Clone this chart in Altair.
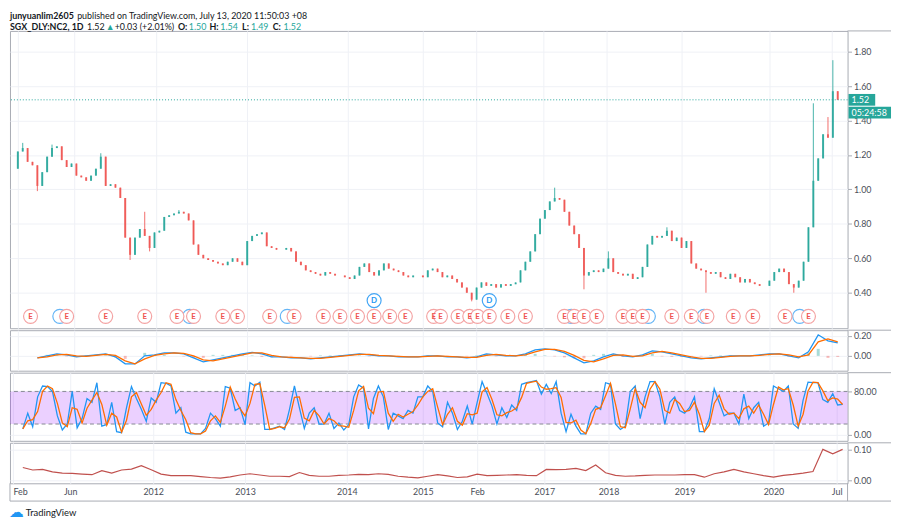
import altair as alt
import pandas as pd

# ---------------- data ----------------
# closes sampled evenly along the bar-index axis
closes = [
    1.22, 1.24, 1.16, 1.14, 1.02, 1.10, 1.19, 1.24, 1.25, 1.17,
    1.13, 1.15, 1.08, 1.07, 1.05, 1.08, 1.12, 1.19, 1.02, 1.03,
    1.01, 0.95, 0.72, 0.62, 0.72, 0.77, 0.73, 0.66, 0.75, 0.76,
    0.84, 0.85, 0.86, 0.87, 0.86, 0.82, 0.68, 0.62, 0.60, 0.59,
    0.58, 0.57, 0.56, 0.58, 0.60, 0.58, 0.56, 0.70, 0.73, 0.74,
    0.75, 0.67, 0.66, 0.65, 0.65, 0.66, 0.64, 0.58, 0.56, 0.53,
    0.52, 0.51, 0.50, 0.52, 0.51, 0.50, 0.50, 0.49, 0.48, 0.50,
    0.55, 0.57, 0.52, 0.50, 0.53, 0.57, 0.54, 0.53, 0.52, 0.50,
    0.49, 0.50, 0.50, 0.49, 0.53, 0.54, 0.52, 0.49, 0.50, 0.48,
    0.46, 0.43, 0.40, 0.36, 0.43, 0.46, 0.44, 0.45, 0.43, 0.45,
    0.44, 0.45, 0.46, 0.53, 0.58, 0.64, 0.74, 0.83, 0.88, 0.93,
    0.95, 0.94, 0.87, 0.79, 0.74, 0.66, 0.50, 0.52, 0.53, 0.52,
    0.54, 0.60, 0.52, 0.51, 0.50, 0.51, 0.48, 0.49, 0.55, 0.68,
    0.73, 0.72, 0.73, 0.76, 0.70, 0.72, 0.66, 0.70, 0.57, 0.54,
    0.53, 0.52, 0.51, 0.52, 0.49, 0.48, 0.51, 0.49, 0.46, 0.48,
    0.46, 0.45, 0.44, 0.44, 0.47, 0.52, 0.54, 0.52, 0.45, 0.43,
    0.47, 0.58, 0.78, 1.05, 1.18, 1.32, 1.30, 1.57, 1.52,
]
first_open = 1.12
wick_hi_idx = [1, 7, 17, 26, 33, 110, 121, 133, 163, 166, 167]
wick_hi_val = [1.27, 1.26, 1.21, 0.87, 0.88, 1.01, 0.64, 0.78, 1.50, 1.42, 1.75]
wick_lo_idx = [4, 23, 27, 93, 116, 141, 159, 164]
wick_lo_val = [0.99, 0.59, 0.64, 0.35, 0.42, 0.40, 0.40, 1.11]

earn_idx = [2.6, 10, 18, 26, 32.6, 36, 42, 45, 51.6, 56.6, 62.6, 66, 69.6, 73,
            76.2, 79.4, 85.2, 86.6, 90.2, 92.6, 94.2, 96.6, 100.4, 104, 112,
            114, 116, 118.6, 124, 126, 128, 134, 138, 141.2, 146.6, 150.6,
            157.2, 162]
blue_idx = [8.6, 35.2, 55.2, 113.4, 129.2, 140.6, 160.2]
div_idx = [73, 96.6]

# MACD every second bar, starting at bar 4
macd_vals = [
    -0.02, 0.00, 0.02, 0.01, -0.01, 0.00, 0.01, 0.02, -0.01, -0.08,
    -0.08, 0.00, 0.01, 0.03, 0.03, 0.02, -0.02, -0.06, -0.04, -0.02,
    0.00, 0.02, 0.035, 0.02, -0.01, -0.01, -0.02, -0.02, -0.03, -0.02,
    -0.01, 0.00, 0.01, 0.02, 0.01, 0.00, 0.00, -0.01, -0.01, -0.01,
    0.00, 0.00, -0.01, -0.01, -0.02, -0.01, 0.02, 0.01, 0.00, 0.00,
    0.02, 0.06, 0.07, 0.06, 0.03, -0.02, -0.07, -0.05, -0.01, 0.02,
    0.00, -0.01, 0.01, 0.05, 0.04, 0.02, 0.00, -0.02, -0.03, -0.02,
    -0.01, 0.00, 0.00, 0.00, 0.01, 0.02, 0.02, 0.00, -0.02, 0.04,
    0.21, 0.15, 0.13,
]
signal_vals = [
    -0.02, -0.01, 0.01, 0.015, 0.00, -0.005, 0.005, 0.015, 0.005, -0.05,
    -0.08, -0.03, 0.005, 0.02, 0.03, 0.025, 0.00, -0.04, -0.05, -0.03,
    -0.01, 0.01, 0.03, 0.03, 0.005, -0.01, -0.015, -0.02, -0.025, -0.025,
    -0.015, -0.005, 0.005, 0.015, 0.015, 0.005, 0.00, -0.005, -0.01, -0.01,
    -0.005, 0.00, -0.005, -0.01, -0.015, -0.015, 0.005, 0.015, 0.005, 0.00,
    0.01, 0.04, 0.065, 0.065, 0.045, 0.005, -0.045, -0.06, -0.03, 0.005,
    0.01, -0.005, 0.00, 0.03, 0.045, 0.03, 0.01, -0.01, -0.025, -0.025,
    -0.015, -0.005, 0.00, 0.00, 0.005, 0.015, 0.02, 0.01, -0.01, 0.01,
    0.14, 0.17, 0.14,
]

# Stochastic %K / %D, every bar starting at bar 2
stoch_k = [
    11, 40, 15, 70, 90, 89, 80, 35, 9, 20, 80, 13, 30, 67, 60, 96, 16, 19,
    60, 6, 4, 50, 89, 67, 47, 25, 68, 60, 96, 95, 90, 40, 50, 5, 2, 2, 2,
    12, 40, 30, 16, 89, 86, 45, 50, 19, 96, 90, 97, 10, 10, 13, 16, 10, 47,
    90, 50, 12, 40, 50, 20, 20, 40, 12, 22, 9, 19, 70, 92, 86, 11, 67, 90,
    70, 10, 40, 35, 30, 45, 40, 70, 70, 90, 80, 22, 15, 60, 40, 10, 25, 53,
    20, 60, 98, 76, 53, 20, 50, 32, 55, 45, 93, 96, 98, 100, 75, 93, 76, 98,
    40, 6, 38, 16, 2, 2, 40, 53, 47, 96, 93, 20, 10, 16, 80, 90, 30, 70, 98,
    98, 70, 20, 60, 70, 45, 40, 50, 70, 6, 6, 30, 85, 60, 35, 40, 40, 20,
    75, 30, 50, 60, 16, 22, 90, 85, 80, 90, 20, 12, 64, 97, 96, 96, 65, 60,
    76, 55, 56,
]
stoch_d = [
    11, 26, 28, 43, 80, 90, 85, 58, 22, 15, 50, 47, 22, 49, 64, 78, 56, 18,
    40, 33, 5, 27, 70, 78, 57, 36, 47, 64, 78, 96, 93, 65, 45, 28, 4, 2, 2,
    7, 26, 35, 23, 53, 88, 66, 48, 35, 58, 93, 94, 54, 10, 12, 15, 13, 29,
    69, 70, 31, 26, 45, 35, 20, 30, 26, 17, 16, 14, 45, 81, 89, 49, 39, 79,
    80, 40, 25, 38, 33, 38, 43, 55, 70, 80, 85, 51, 19, 38, 50, 25, 18, 39,
    37, 40, 79, 87, 65, 37, 35, 41, 44, 50, 69, 95, 97, 99, 88, 84, 85, 87,
    69, 23, 22, 27, 9, 2, 21, 47, 50, 72, 95, 57, 15, 13, 48, 85, 60, 50, 84,
    98, 84, 45, 40, 65, 58, 43, 45, 60, 38, 6, 18, 58, 73, 48, 38, 40, 30,
    48, 53, 40, 55, 38, 19, 56, 88, 83, 85, 55, 16, 38, 81, 97, 96, 81, 63,
    68, 66, 56,
]

# lower indicator, every second bar starting at bar 2
lower_vals = [
    0.042, 0.034, 0.036, 0.028, 0.024, 0.023, 0.021, 0.019, 0.032, 0.024,
    0.034, 0.037, 0.048, 0.035, 0.021, 0.016, 0.016, 0.016, 0.013, 0.010,
    0.008, 0.012, 0.018, 0.022, 0.018, 0.014, 0.014, 0.013, 0.026, 0.017,
    0.014, 0.014, 0.017, 0.018, 0.020, 0.019, 0.022, 0.020, 0.014, 0.011,
    0.009, 0.014, 0.019, 0.015, 0.010, 0.012, 0.021, 0.016, 0.017, 0.018,
    0.019, 0.017, 0.016, 0.036, 0.035, 0.036, 0.039, 0.032, 0.050, 0.025,
    0.017, 0.014, 0.015, 0.017, 0.018, 0.018, 0.018, 0.019, 0.019, 0.011,
    0.022, 0.028, 0.036, 0.028, 0.022, 0.016, 0.011, 0.017, 0.020, 0.024,
    0.029, 0.100, 0.086, 0.100,
]

tick_idx = [0, 11.6, 28.4, 47, 67.6, 83, 94, 107.6, 120.6, 136, 154, 166.8]
tick_lab = ["Feb", "Jun", "2012", "2013", "2014", "2015", "Feb", "2017",
            "2018", "2019", "2020", "Jul"]
price_ticks = [0.4, 0.6, 0.8, 1.0, 1.2, 1.4, 1.6, 1.8]

# ---------------- tables ----------------
n = len(closes)
opens = [first_open] + closes[:-1]
highs = [max(o, c) for o, c in zip(opens, closes)]
lows = [min(o, c) for o, c in zip(opens, closes)]
for i, v in zip(wick_hi_idx, wick_hi_val):
    highs[i] = max(highs[i], v)
for i, v in zip(wick_lo_idx, wick_lo_val):
    lows[i] = min(lows[i], v)
cdf = pd.DataFrame({"i": list(range(n)), "o": opens, "c": closes, "h": highs, "l": lows})
cdf["up"] = cdf["c"] >= cdf["o"]

mlen = min(len(macd_vals), len(signal_vals))
mdf = pd.DataFrame({"i": [4 + 2 * k for k in range(mlen)],
                    "m": macd_vals[:mlen], "s": signal_vals[:mlen]})
mdf["hist"] = mdf["m"] - mdf["s"]

klen = min(len(stoch_k), len(stoch_d))
sdf = pd.DataFrame({"i": [2 + k for k in range(klen)], "k": stoch_k[:klen], "d": stoch_d[:klen]})
ldf = pd.DataFrame({"i": [2 + 2 * k for k in range(len(lower_vals))], "v": lower_vals})

# ---------------- styling ----------------
W = 848
H1, H2, H3, H4 = 301, 41, 69, 41
UP, DN = "#26a69a", "#ef5350"
FONT = "Lato"
FRAME = "#a8abb3"
GRID = "#eff1f6"

xs = alt.Scale(domain=[-0.6, 169.0], nice=False, zero=False)
grid_axis = alt.Axis(values=tick_idx, labels=False, ticks=False, domain=False,
                     grid=True, title=None, gridColor=GRID)


def X(axis=grid_axis):
    return alt.X("i:Q", scale=xs, axis=axis)


def yaxis(values):
    return alt.Axis(orient="right", values=values, format=".2f", title=None,
                    grid=True, gridColor=GRID)


def one():
    return alt.Chart(pd.DataFrame({"a": [0]}))


def ext_rule(y):
    # frame line continuing across the price-scale column
    return one().mark_rule(color=FRAME, strokeWidth=1).encode(
        x=alt.value(W), x2=alt.value(W + 44), y=alt.value(y))


# ---------------- price panel ----------------
ys1 = alt.Scale(domain=[0.194, 1.92], nice=False, zero=False)
ccol = alt.condition("datum.up", alt.value(UP), alt.value(DN))
cbase = alt.Chart(cdf)
wicks = cbase.mark_rule(strokeWidth=1, opacity=0.85).encode(
    x=X(), y=alt.Y("l:Q", scale=ys1, axis=yaxis(price_ticks)), y2="h:Q", color=ccol)
bodies = cbase.mark_bar(size=2, opacity=0.85).encode(
    x=X(), y=alt.Y("o:Q", scale=ys1), y2="c:Q", color=ccol)

last = closes[-1]
ldf1 = pd.DataFrame({"p": [last]})
last_line = alt.Chart(ldf1).mark_rule(color=UP, strokeDash=[1, 2], strokeWidth=1).encode(
    y=alt.Y("p:Q", scale=ys1))
boxes = pd.DataFrame({
    "p": [last, last - 0.074],
    "lo": [last - 0.034, last - 0.074 - 0.034],
    "hi": [last + 0.034, last - 0.074 + 0.034],
    "lab": [f"{last:.2f}", "05:24:58"],
})
box_rect1 = alt.Chart(boxes.iloc[:1]).mark_rect(color=UP).encode(
    x=alt.value(W + 1), x2=alt.value(W + 28), y=alt.Y("lo:Q", scale=ys1), y2="hi:Q")
box_rect2 = alt.Chart(boxes.iloc[1:]).mark_rect(color=UP).encode(
    x=alt.value(W + 1), x2=alt.value(W + 44), y=alt.Y("lo:Q", scale=ys1), y2="hi:Q")
box_text = alt.Chart(boxes).mark_text(color="white", align="left", baseline="middle",
                                      font=FONT, fontSize=9).encode(
    x=alt.value(W + 4), y=alt.Y("p:Q", scale=ys1), text="lab:N")

edf = pd.DataFrame({"i": earn_idx})
bdf = pd.DataFrame({"i": blue_idx})
ddf = pd.DataFrame({"i": div_idx})
EY, DY = 289, 273
CS = 200
blue_c = alt.Chart(bdf).mark_point(shape="circle", size=CS, fill="white", fillOpacity=1,
                                   stroke="#64b5f6", strokeWidth=1.2, opacity=1).encode(
    x=X(), y=alt.value(EY))
earn_c = alt.Chart(edf).mark_point(shape="circle", size=CS, fill="white", fillOpacity=1,
                                   stroke="#f4a3a3", strokeWidth=1.2, opacity=1).encode(
    x=X(), y=alt.value(EY))
earn_t = alt.Chart(edf).mark_text(text="E", color="#ef5350", fontSize=8, font=FONT,
                                  fontWeight="bold", baseline="middle").encode(
    x=X(), y=alt.value(EY + 0.5))
div_c = alt.Chart(ddf).mark_point(shape="circle", size=CS, fill="white", fillOpacity=1,
                                  stroke="#42a5f5", strokeWidth=1.2, opacity=1).encode(
    x=X(), y=alt.value(DY))
div_t = alt.Chart(ddf).mark_text(text="D", color="#2196f3", fontSize=8, font=FONT,
                                 fontWeight="bold", baseline="middle").encode(
    x=X(), y=alt.value(DY + 0.5))

# header texts
INK = "#131722"
L1, L2 = -15, -4
segs = [
    ("junyuanlim2605", 0, L1, "bold", INK),
    ("published on TradingView.com, July 13, 2020 11:50:03 +08", 68, L1, "normal", INK),
    ("SGX_DLY:NC2, 1D", 0, L2, "bold", INK),
    ("1.52", 78, L2, "normal", INK),
    ("\u25b2", 97, L2, "normal", UP),
    ("+0.03 (+2.01%)", 106, L2, "normal", INK),
    ("O:", 170, L2, "bold", INK),
    ("1.50", 181, L2, "normal", UP),
    ("H:", 202, L2, "bold", INK),
    ("1.54", 213, L2, "normal", UP),
    ("L:", 235, L2, "bold", INK),
    ("1.49", 244, L2, "normal", UP),
    ("C:", 266, L2, "bold", INK),
    ("1.52", 277, L2, "normal", UP),
]
header = []
for t, hx, hy, wgt, col in segs:
    header.append(one().mark_text(text=t, align="left", baseline="middle", font=FONT,
                                  fontSize=9, fontWeight=wgt, color=col).encode(
        x=alt.value(hx), y=alt.value(hy)))

price = alt.layer(wicks, bodies, last_line, blue_c, earn_c, earn_t, div_c, div_t,
                  box_rect1, box_rect2, box_text, ext_rule(0), *header).properties(
    width=W, height=H1)

# ---------------- MACD panel ----------------
ys2 = alt.Scale(domain=[-0.148, 0.256], nice=False, zero=False)
mbase = alt.Chart(mdf)
hist = mbase.mark_bar(size=3, opacity=0.4).encode(
    x=X(), y=alt.Y("hist:Q", scale=ys2, axis=yaxis([0, 0.2])), y2=alt.datum(0),
    color=alt.condition("datum.hist >= 0", alt.value(UP), alt.value(DN)))
mline = mbase.mark_line(color="#2196f3", strokeWidth=1.3).encode(x=X(), y=alt.Y("m:Q", scale=ys2))
sline = mbase.mark_line(color="#ff6d00", strokeWidth=1.3).encode(x=X(), y=alt.Y("s:Q", scale=ys2))
macd = alt.layer(hist, mline, sline, ext_rule(0)).properties(width=W, height=H2)

# ---------------- Stochastic panel ----------------
ys3 = alt.Scale(domain=[-10.9, 114.5], nice=False, zero=False)
band = alt.Chart(pd.DataFrame({"a": [20], "b": [80]})).mark_rect(color="#9915ff", opacity=0.2).encode(
    x=alt.value(0), x2=alt.value(W), y=alt.Y("a:Q", scale=ys3, axis=yaxis([0, 40, 80])), y2="b:Q")
bands = alt.Chart(pd.DataFrame({"v": [20, 80]})).mark_rule(color="#858892", strokeDash=[4, 3]).encode(
    y=alt.Y("v:Q", scale=ys3))
sbase = alt.Chart(sdf)
kline = sbase.mark_line(color="#2196f3", strokeWidth=1.3).encode(x=X(), y=alt.Y("k:Q", scale=ys3))
dline = sbase.mark_line(color="#ff6d00", strokeWidth=1.3).encode(x=X(), y=alt.Y("d:Q", scale=ys3))
stoch = alt.layer(band, bands, kline, dline, ext_rule(0)).properties(width=W, height=H3)

# ---------------- lower panel ----------------
ys4 = alt.Scale(domain=[-0.0085, 0.121], nice=False, zero=False)
label_expr = " : ".join(f"datum.value == {v} ? '{l}'" for v, l in zip(tick_idx, tick_lab)) + " : ''"
bottom_axis = alt.Axis(values=tick_idx, labelExpr=label_expr, ticks=False, domain=False,
                       grid=True, gridColor=GRID, title=None, labelPadding=4,
                       labelFlush=6, labelOverlap=False, labelColor="#4a4e59")
lline = alt.Chart(ldf).mark_line(color="#c0504d", strokeWidth=1.2).encode(
    x=X(bottom_axis), y=alt.Y("v:Q", scale=ys4, axis=yaxis([0, 0.1])))
frame_bits = [
    ext_rule(0),
    one().mark_rule(color=FRAME).encode(x=alt.value(0), x2=alt.value(W + 44), y=alt.value(H4 + 18)),
    one().mark_rule(color=FRAME).encode(x=alt.value(0), y=alt.value(H4), y2=alt.value(H4 + 18)),
    one().mark_rule(color=FRAME).encode(x=alt.value(W), y=alt.value(H4), y2=alt.value(H4 + 18)),
    one().mark_text(text="\u2601", color="#2196f3", fontSize=15, align="left", baseline="middle",
                    font="DejaVu Sans").encode(x=alt.value(-1), y=alt.value(H4 + 29)),
    one().mark_text(text="TradingView", color=INK, fontSize=9.5, align="left",
                    baseline="middle", font=FONT).encode(x=alt.value(16), y=alt.value(H4 + 30)),
]
lower = alt.layer(lline, *frame_bits).properties(width=W, height=H4)

chart = alt.vconcat(price, macd, stoch, lower, spacing=0).configure_view(
    stroke=FRAME, strokeWidth=1
).configure_axis(
    labelFont=FONT, labelFontSize=9, labelColor="#4a4e59", tickColor=FRAME, tickSize=4,
    labelPadding=2, domain=False
).properties(padding={"left": 0, "top": 0, "right": 0, "bottom": 0})

chart.save("out.html", embed_options={"renderer": "svg", "actions": False})
